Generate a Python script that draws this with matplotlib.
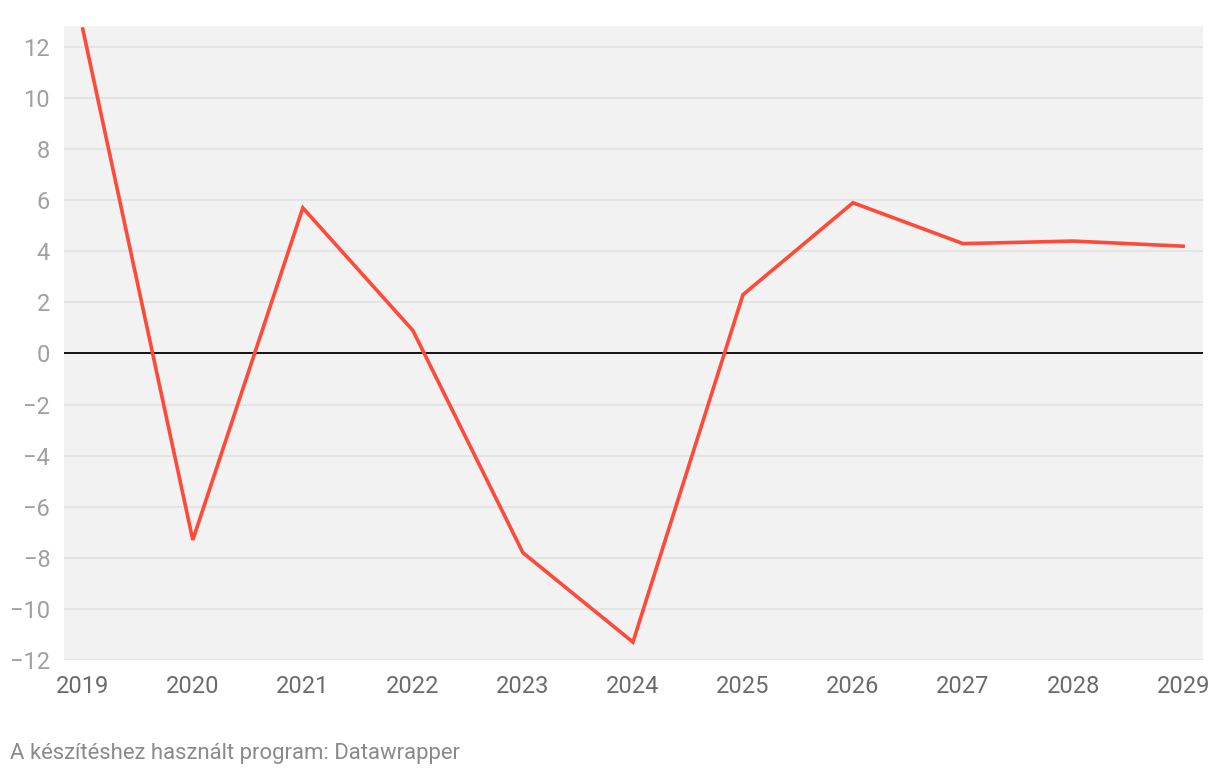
import matplotlib
matplotlib.use("Agg")
import matplotlib.pyplot as plt

plt.rcParams['font.family'] = ['Roboto', 'DejaVu Sans']

years = [2019, 2020, 2021, 2022, 2023, 2024, 2025, 2026, 2027, 2028, 2029]
values = [12.7, -7.3, 5.7, 0.9, -7.8, -11.3, 2.3, 5.9, 4.3, 4.4, 4.2]
yticks = [-12, -10, -8, -6, -4, -2, 0, 2, 4, 6, 8, 10, 12]

fig = plt.figure(figsize=(12.2, 7.76), dpi=100)
ax = fig.add_axes([0.0525, 0.1495, 0.9335, 0.817])
ax.set_facecolor('#f2f2f2')

for t in yticks:
    if t != 0:
        ax.axhline(t, color='#e2e2e2', lw=1.2, zorder=1)
ax.axhline(0, color='black', lw=1.3, zorder=2)

ax.plot(years, values, color='#ff4a3a', lw=2.6, zorder=3, solid_joinstyle='miter')

ax.set_xlim(2018.83, 2029.18)
ax.set_ylim(-12, 12.82)
ax.set_xticks(years)
ax.set_yticks(yticks)
ax.set_yticklabels([str(t).replace('-', '\u2212') for t in yticks])

for s in ax.spines.values():
    s.set_visible(False)
ax.tick_params(axis='y', length=0, pad=10, labelsize=17, labelcolor='#a0a0a0')
ax.tick_params(axis='x', length=0, pad=11, labelsize=17, labelcolor='#6b6b6b')

fig.text(0.008, 0.029, 'A készítéshez használt program: Datawrapper',
         fontsize=15.9, color='#8a8a8a', ha='left', va='center')

fig.savefig('out.png', dpi=100)
